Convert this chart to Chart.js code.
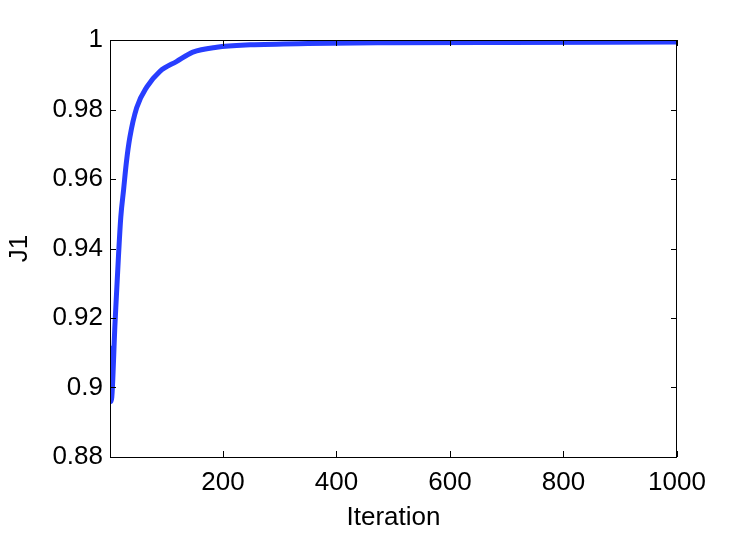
<!DOCTYPE html>
<html>
<head>
<meta charset="utf-8">
<script src="https://cdn.jsdelivr.net/npm/chart.js@4/dist/chart.umd.min.js"></script>
<style>
  html, body { margin: 0; padding: 0; background: #fff; }
  #wrap { width: 747px; height: 534px; }
</style>
</head>
<body>
<div id="wrap"><canvas id="grafico" width="747" height="534"></canvas></div>
<script>
// datos
const iterations = [1, 3, 10, 16, 20, 25, 30, 36, 48, 66, 89, 118, 147, 189, 248, 350, 500, 700, 1000];
const j1Values = [0.912, 0.896, 0.919, 0.938, 0.949, 0.957, 0.965, 0.972, 0.9805, 0.9865, 0.991, 0.9938, 0.9965, 0.9979, 0.9986, 0.999, 0.9992, 0.9993, 0.9994];
const xTicks = [200, 400, 600, 800, 1000];
const yTicks = [0.88, 0.9, 0.92, 0.94, 0.96, 0.98, 1];

const fuente = "'Liberation Sans', Arial, Helvetica, sans-serif";

// marco y ticks hacia dentro, estilo MATLAB
const marcoPlugin = {
    id: 'marco',
    afterDatasetsDraw(chart) {
        const { ctx, chartArea: a, scales } = chart;
        const len = 6;
        ctx.save();
        ctx.strokeStyle = '#000';
        ctx.lineWidth = 1;
        ctx.strokeRect(a.left + 0.5, a.top + 0.5, a.right - a.left - 1, a.bottom - a.top);
        ctx.beginPath();
        xTicks.forEach(v => {
            const x = Math.round(scales.x.getPixelForValue(v)) + 0.5;
            ctx.moveTo(x, a.bottom); ctx.lineTo(x, a.bottom - len);
            ctx.moveTo(x, a.top); ctx.lineTo(x, a.top + len);
        });
        yTicks.forEach(v => {
            const y = Math.round(scales.y.getPixelForValue(v)) + 0.5;
            ctx.moveTo(a.left, y); ctx.lineTo(a.left + len, y);
            ctx.moveTo(a.right, y); ctx.lineTo(a.right - len, y);
        });
        ctx.stroke();
        ctx.restore();
    }
};

const ctx = document.getElementById('grafico').getContext('2d');
new Chart(ctx, {
    type: 'line',
    data: {
        datasets: [{
            label: 'J1',
            data: iterations.map((it, i) => ({ x: it, y: j1Values[i] })),
            borderColor: 'rgb(40, 62, 255)',
            borderWidth: 5,
            pointRadius: 0,
            cubicInterpolationMode: 'monotone',
            fill: false
        }]
    },
    options: {
        responsive: false,
        animation: false,
        layout: { padding: { top: 40, right: 70, left: 0, bottom: 0 } },
        plugins: { legend: { display: false }, tooltip: { enabled: false } },
        scales: {
            x: {
                type: 'linear',
                min: 1,
                max: 1000,
                afterBuildTicks: s => { s.ticks = xTicks.map(v => ({ value: v })); },
                afterFit: s => { s.height = 77; },
                grid: { display: false, drawTicks: false },
                border: { display: false },
                ticks: {
                    color: '#000',
                    padding: 10,
                    maxRotation: 0,
                    font: { family: fuente, size: 26 },
                    callback: v => String(v)
                },
                title: {
                    display: true,
                    text: 'Iteration',
                    color: '#000',
                    font: { family: fuente, size: 26 },
                    padding: { top: 0, bottom: 1 }
                }
            },
            y: {
                min: 0.88,
                max: 1,
                afterBuildTicks: s => { s.ticks = yTicks.map(v => ({ value: v })); },
                afterFit: s => { s.width = 110; },
                grid: { display: false, drawTicks: false },
                border: { display: false },
                ticks: {
                    color: '#000',
                    padding: 7,
                    font: { family: fuente, size: 26 },
                    callback: v => String(parseFloat(v.toFixed(2)))
                },
                title: {
                    display: true,
                    text: 'J1',
                    color: '#000',
                    font: { family: fuente, size: 26 },
                    padding: { top: 4, bottom: 0 }
                }
            }
        }
    },
    plugins: [marcoPlugin]
});
</script>
</body>
</html>
